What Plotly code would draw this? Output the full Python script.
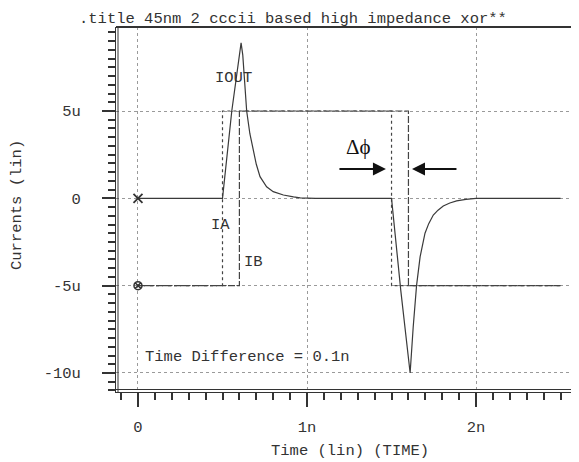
import plotly.graph_objects as go

# ---- data (time in ns, current in uA) ----
t_ia = [0, 0.5, 0.5, 1.5, 1.5, 2.5]
i_ia = [-5, -5, 5, 5, -5, -5]
t_ib = [0, 0.6, 0.6, 1.6, 1.6, 2.5]
i_ib = [-5, -5, 5, 5, -5, -5]
t_out = [0, 0.5, 0.555, 0.6, 0.61, 0.62, 0.643, 0.662, 0.682, 0.70, 0.722, 0.74, 0.761,
         0.80, 0.86, 0.92, 0.96, 1.05, 1.5, 1.555, 1.61, 1.628, 1.648, 1.669, 1.698,
         1.72, 1.747, 1.775, 1.806, 1.845, 1.885, 1.94, 2.0, 2.5]
i_out = [0, 0, 5.0, 8.3, 8.9, 8.2, 5.0, 3.7, 2.76, 1.95, 1.24, 0.95, 0.66,
         0.38, 0.19, 0.08, 0.03, 0, 0, -5.3, -10.0, -7.4, -5.0, -3.35, -2.0,
         -1.45, -0.96, -0.68, -0.44, -0.27, -0.15, -0.06, 0, 0]
x_tickvals = [0, 1, 2]
x_ticktext = ["0", "1n", "2n"]
y_tickvals = [-10, -5, 0, 5]
y_ticktext = ["-10u", "-5u", "0", "5u"]

MONO = "Liberation Mono"
INK = "#333333"
FS = 15.5

fig = go.Figure()
fig.add_trace(go.Scatter(x=t_ia, y=i_ia, mode="lines", name="IA",
                         line=dict(color="#444444", width=1.2, dash="dot")))
fig.add_trace(go.Scatter(x=t_ib, y=i_ib, mode="lines", name="IB",
                         line=dict(color="#444444", width=1.2, dash="7px,2px")))
fig.add_trace(go.Scatter(x=t_out, y=i_out, mode="lines", name="IOUT",
                         line=dict(color="#3a3a3a", width=1.2)))
# start markers
fig.add_trace(go.Scatter(x=[t_out[0]], y=[i_out[0]], mode="markers",
                         marker=dict(symbol="x-thin-open", size=9, color=INK,
                                     line=dict(width=1.8, color=INK))))
fig.add_trace(go.Scatter(x=[t_ia[0]], y=[i_ia[0]], mode="markers",
                         marker=dict(symbol="circle-x-open", size=8, color=INK,
                                     line=dict(width=1.5, color=INK))))

# plot area in pixels (page has an 8px body margin, compensated here)
W, H = 463, 365
shapes = [
    dict(type="line", xref="paper", yref="paper", x0=2/W, x1=2/W, y0=0, y1=1,
         line=dict(color=INK, width=1)),
    dict(type="line", xref="paper", yref="paper", x0=0, x1=1, y0=2.5/H, y1=2.5/H,
         line=dict(color=INK, width=1)),
    dict(type="line", xref="paper", yref="paper", x0=0, x1=1, y0=1, y1=1,
         line=dict(color=INK, width=2)),
]

ann = [
    dict(text=".title 45nm 2 cccii based high impedance xor**", xref="paper", yref="paper",
         x=(293-116)/W, y=(392-8)/H, showarrow=False, xanchor="center", yanchor="top",
         font=dict(family=MONO, size=FS, color=INK)),
    dict(text="Currents (lin)", xref="paper", yref="paper", textangle=-90,
         x=(17-116)/W, y=(392-205)/H, showarrow=False, xanchor="center", yanchor="middle",
         font=dict(family=MONO, size=FS, color=INK)),
    dict(text="Time (lin) (TIME)", xref="paper", yref="paper",
         x=(350-116)/W, y=(392-451)/H, showarrow=False, xanchor="center", yanchor="middle",
         font=dict(family=MONO, size=FS, color=INK)),
    dict(text="IOUT", x=0.568, y=6.89, showarrow=False, xanchor="center", yanchor="middle",
         font=dict(family=MONO, size=FS, color=INK)),
    dict(text="IA", x=0.491, y=-1.53, showarrow=False, xanchor="center", yanchor="middle",
         font=dict(family=MONO, size=FS, color=INK)),
    dict(text="IB", x=0.686, y=-3.65, showarrow=False, xanchor="center", yanchor="middle",
         font=dict(family=MONO, size=FS, color=INK)),
    dict(text="Time Difference = 0.1n", x=0.031, y=-9.07, showarrow=False,
         xanchor="left", yanchor="middle", font=dict(family=MONO, size=FS, color=INK)),
    dict(text="Δϕ", x=1.302, y=2.94, showarrow=False, xanchor="center", yanchor="middle",
         font=dict(family="Liberation Serif", size=21, color="#111111")),
    dict(text="", x=1.467, y=1.68, ax=1.183, ay=1.68, axref="x", ayref="y",
         showarrow=True, arrowhead=2, arrowsize=1.3, arrowwidth=2, arrowcolor="#111111"),
    dict(text="", x=1.621, y=1.68, ax=1.893, ay=1.68, axref="x", ayref="y",
         showarrow=True, arrowhead=2, arrowsize=1.3, arrowwidth=2, arrowcolor="#111111"),
]

fig.update_layout(
    width=571, height=454, margin=dict(l=108, r=0, t=19, b=70),
    paper_bgcolor="white", plot_bgcolor="white", showlegend=False,
    shapes=shapes, annotations=ann,
    xaxis=dict(range=[-0.130, 2.609], tickmode="array", tickvals=x_tickvals, ticktext=x_ticktext,
               ticks="outside", ticklen=14, tickwidth=1.5, tickcolor=INK,
               showline=True, linecolor=INK, linewidth=1, zeroline=False,
               showgrid=True, gridcolor="#9a9a9a", griddash="3px,3px", gridwidth=1,
               tickfont=dict(family=MONO, size=FS, color=INK), ticklabelstandoff=6,
               minor=dict(tick0=0, dtick=0.1, ticks="outside", ticklen=7, tickcolor=INK,
                          tickwidth=1.5, showgrid=False)),
    yaxis=dict(range=[-11.09, 9.81], tickmode="array", tickvals=y_tickvals, ticktext=y_ticktext,
               ticks="outside", ticklen=13, tickwidth=1.5, tickcolor=INK,
               showline=True, linecolor=INK, linewidth=1, zeroline=False,
               showgrid=True, gridcolor="#9a9a9a", griddash="3px,3px", gridwidth=1,
               tickfont=dict(family=MONO, size=FS, color=INK), ticklabelstandoff=18,
               minor=dict(tick0=0, dtick=0.5, ticks="outside", ticklen=7, tickcolor=INK,
                          tickwidth=1.5, showgrid=False)),
)

fig.write_html("out.html")
